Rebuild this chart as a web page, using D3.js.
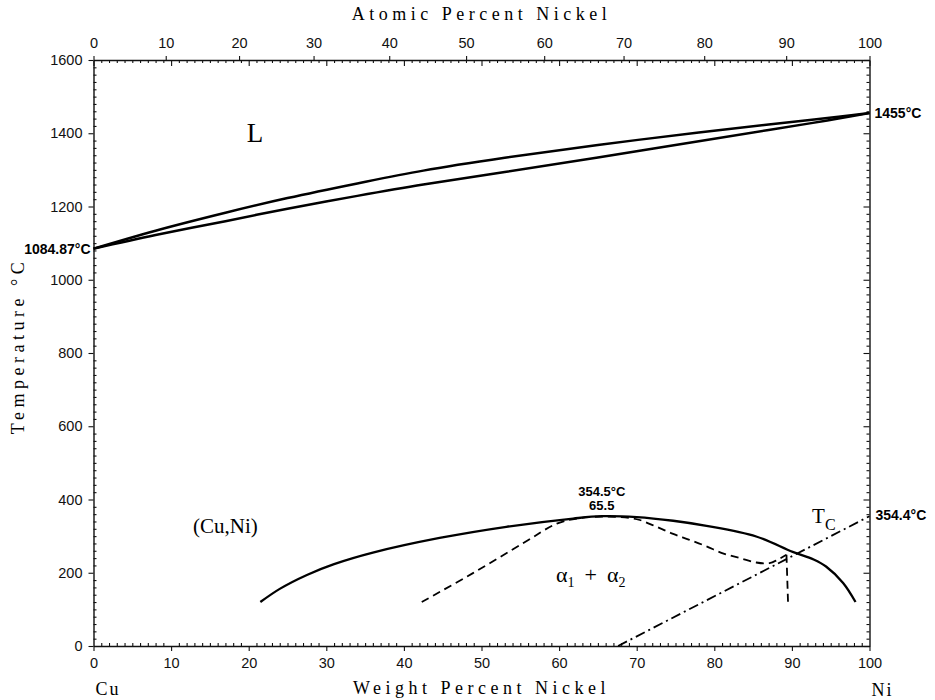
<!DOCTYPE html>
<html>
<head>
<meta charset="utf-8">
<script src="https://cdn.jsdelivr.net/npm/d3@7"></script>
<style>
  body { margin: 0; background: #fff; }
  svg { display: block; }
  .tick text { font-family: "Liberation Sans", Arial, sans-serif; font-size: 14.5px; fill: #111; }
  .domain { stroke: #111; stroke-width: 1.4; }
  .tick line { stroke: #111; stroke-width: 1.1; }
</style>
</head>
<body>
<div id="chart"></div>
<script>
"use strict";

// --- data (weight % Ni, temperature in C) ---
var wtTicks = [0, 10, 20, 30, 40, 50, 60, 70, 80, 90, 100];
var atTicks = [0, 10, 20, 30, 40, 50, 60, 70, 80, 90, 100];
var tempTicks = [0, 200, 400, 600, 800, 1000, 1200, 1400, 1600];

var liquidus = [
  [0, 1084.87], [8, 1134], [17, 1183], [25, 1223], [34, 1263], [42.5, 1298],
  [53, 1333], [65, 1368], [78, 1402], [87, 1424], [92.3, 1436], [96, 1445], [100, 1455]
];
var solidus = [
  [0, 1084.87], [8, 1122], [17, 1160], [25, 1194], [34, 1229], [42.5, 1260],
  [53, 1294], [65, 1334], [78, 1378], [87, 1409], [92.3, 1427], [96, 1440], [100, 1455]
];
var gapBoundary = [
  [21.5, 120], [24, 156], [27.5, 194], [31, 223.5], [36, 255], [44.6, 295],
  [53.2, 325.5], [61.8, 348], [65.5, 354.5], [70, 352], [74.7, 342], [79, 328],
  [85.4, 299], [90.1, 257], [92.8, 236], [94.4, 217], [96.6, 172], [98.2, 120]
];
var spinodal = [
  [42.3, 120], [48.9, 199], [55.4, 281], [59.7, 334], [62.6, 349], [66, 353.5],
  [69, 350], [70.4, 344], [72.5, 326], [74.7, 306], [76.8, 290], [79, 272],
  [81.1, 253], [83.3, 240], [85.4, 228], [87.1, 226], [88.2, 236], [89.3, 249]
];
var spinodalDrop = [[89.3, 249], [89.5, 121]];
var curieLine = [[67.6, 0], [100, 354.4]];

// --- layout ---
var width = 935, height = 700;
var margin = {top: 60, right: 65.5, bottom: 54, left: 93.5};
var plotW = width - margin.left - margin.right,
    plotH = height - margin.top - margin.bottom;

var x = d3.scaleLinear().domain([0, 100]).range([margin.left, margin.left + plotW]);
var y = d3.scaleLinear().domain([0, 1600]).range([margin.top + plotH, margin.top]);

// atomic % Ni -> weight % Ni
var mNi = 58.693, mCu = 63.546;
function atToWt(a) {
  return 100 * a * mNi / (a * mNi + (100 - a) * mCu);
}

var svg = d3.select("#chart")
  .append("svg")
  .attr("width", width)
  .attr("height", height);

var minorWt = d3.range(0, 101, 1).filter(function(d){ return d % 10 !== 0; });
var minorT = d3.range(0, 1601, 20).filter(function(d){ return d % 200 !== 0; });
var fmt = d3.format("d");

// bottom axis: weight percent
svg.append("g")
  .attr("transform", "translate(0," + y(0) + ")")
  .call(d3.axisBottom(x).tickValues(wtTicks).tickFormat(fmt).tickSize(5).tickPadding(7).tickSizeOuter(0));
svg.append("g")
  .attr("transform", "translate(0," + y(0) + ")")
  .call(d3.axisTop(x).tickValues(minorWt).tickSize(3).tickFormat("").tickSizeOuter(0))
  .call(function(g){ g.select(".domain").remove(); });

// top axis: weight ticks inside, atomic labels outside
svg.append("g")
  .attr("transform", "translate(0," + y(1600) + ")")
  .call(d3.axisBottom(x).tickValues(wtTicks).tickSize(6).tickFormat("").tickSizeOuter(0));
svg.append("g")
  .attr("transform", "translate(0," + y(1600) + ")")
  .call(d3.axisBottom(x).tickValues(minorWt).tickSize(3).tickFormat("").tickSizeOuter(0))
  .call(function(g){ g.select(".domain").remove(); });
svg.append("g")
  .attr("transform", "translate(0," + y(1600) + ")")
  .call(d3.axisTop(x).tickValues(atTicks.map(atToWt))
        .tickFormat(function(d, i){ return atTicks[i]; })
        .tickSize(4).tickPadding(8).tickSizeOuter(0))
  .call(function(g){ g.select(".domain").remove(); });

// left axis
svg.append("g")
  .attr("transform", "translate(" + x(0) + ",0)")
  .call(d3.axisLeft(y).tickValues(tempTicks).tickFormat(fmt).tickSize(5).tickPadding(6).tickSizeOuter(0));
svg.append("g")
  .attr("transform", "translate(" + x(0) + ",0)")
  .call(d3.axisRight(y).tickValues(minorT).tickSize(3).tickFormat("").tickSizeOuter(0))
  .call(function(g){ g.select(".domain").remove(); });

// right axis, ticks inside only
svg.append("g")
  .attr("transform", "translate(" + x(100) + ",0)")
  .call(d3.axisLeft(y).tickValues(tempTicks).tickSize(6).tickFormat("").tickSizeOuter(0));
svg.append("g")
  .attr("transform", "translate(" + x(100) + ",0)")
  .call(d3.axisLeft(y).tickValues(minorT).tickSize(3).tickFormat("").tickSizeOuter(0))
  .call(function(g){ g.select(".domain").remove(); });

// --- curves ---
var smooth = d3.line()
  .x(function(d){ return x(d[0]); })
  .y(function(d){ return y(d[1]); })
  .curve(d3.curveCatmullRom.alpha(0.5));
var straight = d3.line()
  .x(function(d){ return x(d[0]); })
  .y(function(d){ return y(d[1]); });

var curves = svg.append("g").attr("fill", "none").attr("stroke", "#000");

curves.append("path").attr("d", smooth(liquidus)).attr("stroke-width", 2.5);
curves.append("path").attr("d", smooth(solidus)).attr("stroke-width", 2.5);
curves.append("path").attr("d", smooth(gapBoundary)).attr("stroke-width", 2.3);
curves.append("path").attr("d", smooth(spinodal))
  .attr("stroke-width", 1.8).attr("stroke-dasharray", "8,5");
curves.append("path").attr("d", straight(spinodalDrop))
  .attr("stroke-width", 1.8).attr("stroke-dasharray", "8,5");
curves.append("path").attr("d", straight(curieLine))
  .attr("stroke-width", 1.8).attr("stroke-dasharray", "10,4,2,4");

// --- text ---
var serif = "'Liberation Serif', 'DejaVu Serif', serif";
var boldSans = "'Liberation Sans Narrow', 'Liberation Sans', Arial, sans-serif";

function label(txt, px, py, opts) {
  opts = opts || {};
  return svg.append("text")
    .attr("x", px).attr("y", py)
    .attr("text-anchor", opts.anchor || "start")
    .attr("font-family", opts.family || serif)
    .attr("font-size", opts.size || 20)
    .attr("font-weight", opts.weight || "normal")
    .attr("letter-spacing", opts.spacing || 0)
    .attr("fill", "#000")
    .text(txt);
}

label("Atomic Percent Nickel", (x(0) + x(100)) / 2, 20, {anchor: "middle", size: 18, spacing: 4.5});
label("Weight Percent Nickel", (x(0) + x(100)) / 2, 694, {anchor: "middle", size: 18, spacing: 4.5});
label("Cu", x(0) + 2, 695, {size: 18, spacing: 2});
label("Ni", x(100) + 2, 696, {size: 18, spacing: 2});

var ttl = svg.append("text")
  .attr("transform", "translate(24," + y(819) + ") rotate(-90)")
  .attr("text-anchor", "middle")
  .attr("font-family", serif)
  .attr("font-size", 18)
  .attr("letter-spacing", 4.5);
ttl.append("tspan").text("Temperature");
ttl.append("tspan").attr("dx", 8).text("°C");

label("1084.87°C", x(0) - 3, y(1084.87) + 5, {anchor: "end", family: boldSans, size: 14, weight: "bold"});
label("1455°C", x(100) + 5, y(1455) + 5, {family: boldSans, size: 14, weight: "bold"});
label("354.4°C", x(100) + 6, y(354.4) + 4, {family: boldSans, size: 14, weight: "bold"});
label("354.5°C", x(65.5), y(410), {anchor: "middle", family: boldSans, size: 13, weight: "bold"});
label("65.5", x(65.5), y(370), {anchor: "middle", family: boldSans, size: 13, weight: "bold"});

label("L", x(20.8), y(1376), {anchor: "middle", size: 27});
label("(Cu,Ni)", x(17), y(308), {anchor: "middle", size: 21});

var alpha = label("", x(59.6), y(175), {size: 22});
alpha.append("tspan").text("α");
alpha.append("tspan").attr("font-size", 14).attr("dy", 5).text("1");
alpha.append("tspan").attr("dy", -5).attr("dx", 10).text("+");
alpha.append("tspan").attr("dx", 10).text("α");
alpha.append("tspan").attr("font-size", 14).attr("dy", 5).text("2");

var tc = label("", x(92.6), y(336), {size: 21});
tc.append("tspan").text("T");
tc.append("tspan").attr("font-size", 16).attr("dy", 7).text("C");
</script>
</body>
</html>
